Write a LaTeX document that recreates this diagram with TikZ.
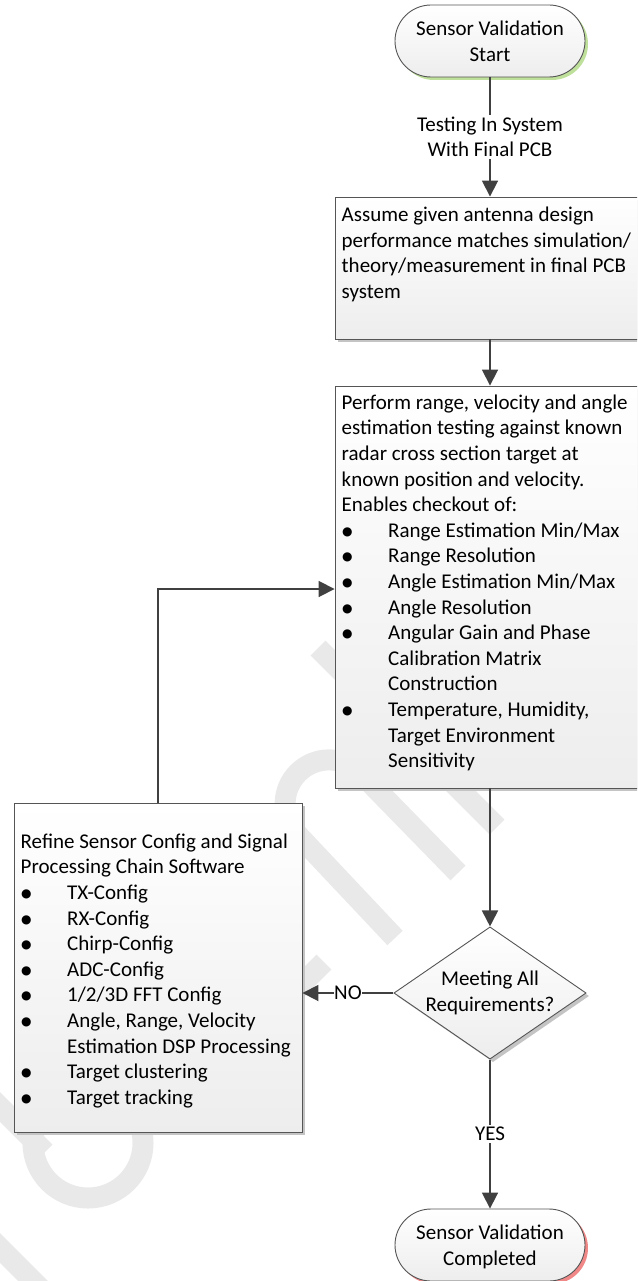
\documentclass[tikz,border=0pt]{standalone}
\usepackage{fontspec}
\setmainfont{Carlito}
\newfontfamily\dejavu{DejaVu Sans}
\usetikzlibrary{arrows.meta,shapes.geometric,shadows}
\definecolor{ln}{HTML}{404040}
\definecolor{bd}{HTML}{555555}
\definecolor{wm}{HTML}{E9E9E9}
\definecolor{gsh}{HTML}{BFE09A}
\definecolor{rsh}{HTML}{F08888}
\definecolor{bsh}{HTML}{C4C4C4}
\newcommand{\itm}[1]{\makebox[46.5pt][l]{\hspace{0.5pt}\raisebox{2pt}{\dejavu\fontsize{12}{12}\selectfont ●}}#1}
\newcommand{\cnt}[1]{\hspace*{46.5pt}#1}
\begin{document}
\begin{tikzpicture}[x=1pt,y=-1pt,
  every node/.style={font=\fontsize{21}{25.6}\selectfont},
  fillshade/.style={top color=white, bottom color=gray!14},
  box/.style={draw=bd, line width=0.9pt, fillshade, inner sep=0pt,
    drop shadow={shadow xshift=3pt, shadow yshift=-3pt, fill=bsh, opacity=1}},
  txt/.style={anchor=north west, inner sep=0pt},
  term/.style={draw=bd, line width=0.9pt, rounded corners=36pt, fillshade,
    minimum width=190pt, minimum height=72pt, align=center, inner sep=0pt},
  dec/.style={diamond, draw=bd, line width=0.9pt, fillshade, align=center,
    shape aspect=1.454, minimum width=189pt, minimum height=130pt, inner sep=0pt,
    drop shadow={shadow xshift=3pt, shadow yshift=-3pt, fill=bsh, opacity=1}},
  conn/.style={draw=ln, line width=1.8pt, -{Triangle[length=16pt,width=16pt]}},
  lbl/.style={fill=white, inner sep=2pt, align=center, text=black},
  wmark/.style={draw=wm, line width=21pt}
]
\clip (0,0) rectangle (637,1281);
\useasboundingbox (0,0) rectangle (637,1281);
% watermark
\draw[wmark] (318,648) -- (497,827);
\draw[wmark] (395,938) -- (298,835) arc[start angle=135, end angle=315, radius=44] -- (458,873);
\draw[wmark] (324,962) -- (282,1004);
\draw[wmark] (88,1143) circle[radius=55];
\draw[wmark] (45,1152) -- (-10,1097);
\draw[wmark] (-10,1238) -- (45,1293);
% nodes
\node[term, drop shadow={shadow xshift=3pt, shadow yshift=-3pt, fill=gsh, opacity=1}] (start) at (490,41) {Sensor Validation\\Start};
\node[box, minimum width=310pt, minimum height=142pt] (b1) at (490,268) {};
\node[txt] (t1) at (341.5,203.6) {\parbox[t]{400pt}{\strut Assume given antenna design\\
performance matches simulation/\\
theory/measurement in final PCB\\
system}};
\node[box, minimum width=310pt, minimum height=402pt] (b2) at (490,587) {};
\node[txt] (t2) at (341.5,391.1) {\parbox[t]{400pt}{\strut Perform range, velocity and angle\\
estimation testing against known\\
radar cross section target at\\
known position and velocity.\\
Enables checkout of:\\
\itm{Range Estimation Min/Max}\\
\itm{Range Resolution}\\
\itm{Angle Estimation Min/Max}\\
\itm{Angle Resolution}\\
\itm{Angular Gain and Phase}\\
\cnt{Calibration Matrix}\\
\cnt{Construction}\\
\itm{Temperature, Humidity,}\\
\cnt{Target Environment}\\
\cnt{Sensitivity}}};
\node[box, minimum width=288pt, minimum height=329pt] (b3) at (158,967.5) {};
\node[txt] (t3) at (20.5,830.1) {\parbox[t]{400pt}{\strut Refine Sensor Config and Signal\\
Processing Chain Software\\
\itm{TX-Config}\\
\itm{RX-Config}\\
\itm{Chirp-Config}\\
\itm{ADC-Config}\\
\itm{1/2/3D FFT Config}\\
\itm{Angle, Range, Velocity}\\
\cnt{Estimation DSP Processing}\\
\itm{Target clustering}\\
\itm{Target tracking}}};
\node[dec] (dec) at (490,993) {Meeting All\\Requirements?};
\node[term, text depth=0pt, drop shadow={shadow xshift=3pt, shadow yshift=-3pt, fill=rsh, opacity=1}] (end) at (490,1245) {Sensor Validation\\Completed};
% connectors
\draw[conn] (start) -- node[lbl]{Testing In System\\With Final PCB} (b1);
\draw[conn] (b1) -- (b2);
\draw[conn] (b2) -- (dec);
\draw[conn] (dec.west) -- node[lbl, inner sep=0.5pt]{NO} (dec.west -| b3.east);
\draw[conn] (dec) -- node[lbl]{YES} (end);
\draw[conn] (b3.north) |- ([yshift=-2pt]b2.west);
\end{tikzpicture}
\end{document}
